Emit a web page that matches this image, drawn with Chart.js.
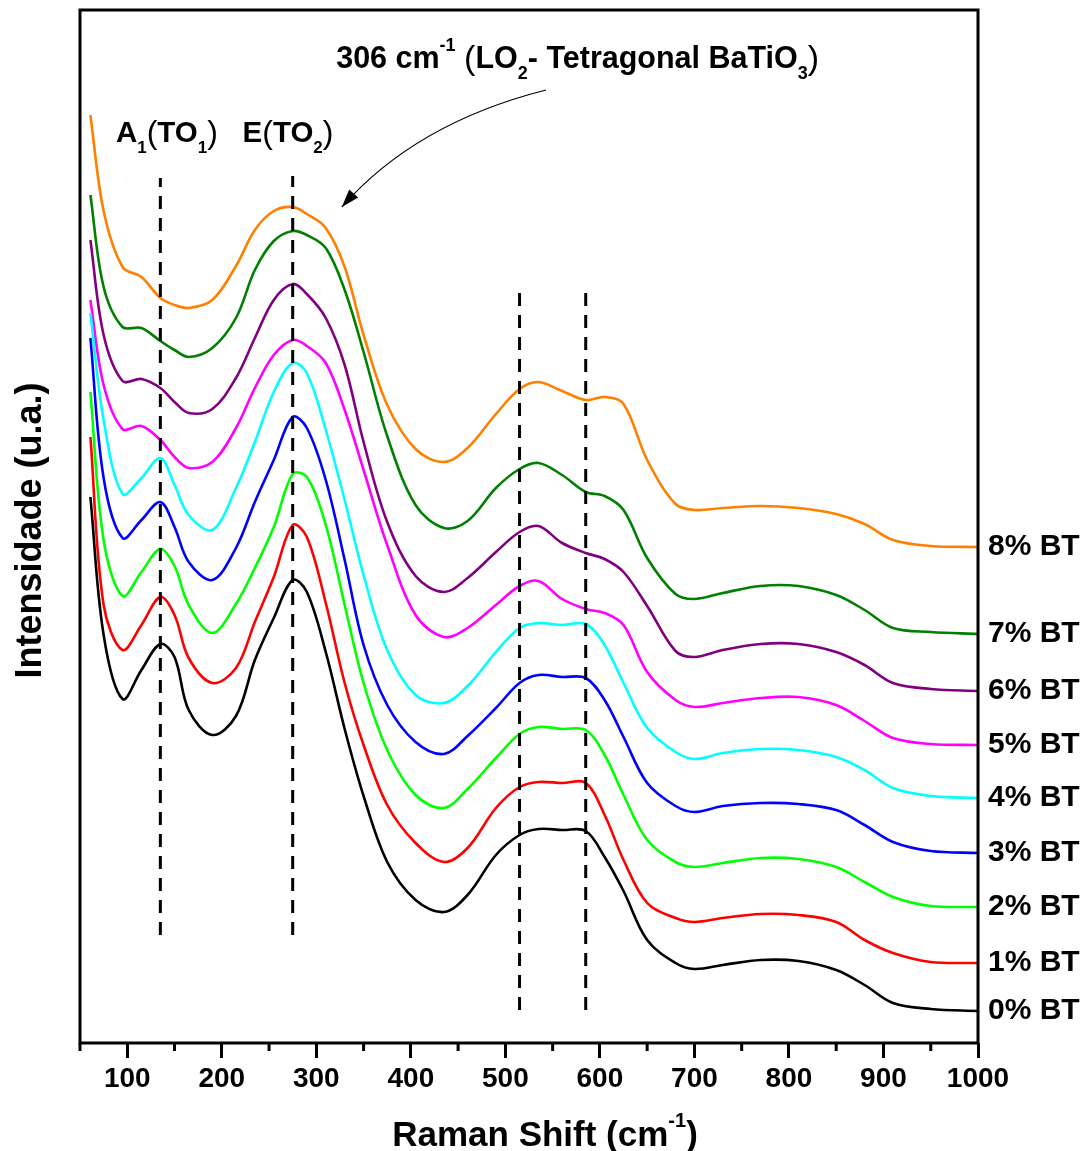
<!DOCTYPE html>
<html>
<head>
<meta charset="utf-8">
<title>Raman BT</title>
<script src="https://cdn.jsdelivr.net/npm/chart.js@4.4.0/dist/chart.umd.min.js"></script>
<style>
    html, body { margin: 0; padding: 0; background: #fff; }
    #wrap { width: 1092px; height: 1151px; position: relative; }
</style>
</head>
<body>
<div id="wrap"><canvas id="ramanChart"></canvas></div>
<script>
// Raman shift (cm-1) shared by all spectra
const ramanShift = [61, 75, 95, 115, 135, 150, 165, 190, 215, 235, 255, 275, 290, 310, 330, 350, 375, 405, 435, 460, 490, 515, 535, 560, 585, 605, 625, 650, 680, 700, 730, 770, 810, 850, 880, 910, 950, 1000];

// stacked intensities (u.a.)
const bt0 = [546, 408, 344, 373, 399, 386, 333, 308, 327, 383, 425, 463, 451, 391, 314, 247, 181, 143, 131, 148, 188, 208, 214, 213, 212, 186, 152, 103, 80, 74, 78, 83, 82, 73, 58, 40, 34, 32];
const bt1 = [606, 438, 393, 418, 446, 428, 385, 360, 375, 421, 466, 518, 506, 440, 360, 298, 238, 200, 181, 195, 235, 256, 261, 260, 260, 228, 183, 140, 125, 121, 125, 129, 128, 121, 103, 90, 81, 80];
const bt2 = [651, 503, 447, 471, 494, 477, 438, 410, 439, 475, 516, 569, 566, 518, 438, 360, 293, 248, 235, 254, 285, 309, 316, 314, 313, 288, 248, 203, 181, 176, 180, 185, 184, 176, 161, 146, 137, 136];
const bt3 = [705, 565, 505, 523, 541, 516, 481, 463, 495, 541, 583, 626, 615, 563, 483, 398, 338, 301, 289, 307, 335, 360, 368, 366, 365, 343, 306, 260, 237, 231, 237, 240, 239, 233, 218, 201, 192, 190];
const bt4 = [730, 623, 549, 565, 585, 558, 528, 513, 555, 601, 651, 680, 670, 613, 543, 468, 393, 348, 340, 357, 391, 415, 420, 418, 419, 398, 360, 315, 291, 284, 290, 294, 293, 286, 273, 255, 247, 245];
const bt5 = [743, 658, 614, 617, 603, 586, 575, 581, 615, 655, 688, 703, 697, 680, 633, 573, 498, 428, 406, 415, 438, 457, 462, 444, 434, 430, 418, 371, 343, 336, 340, 345, 346, 338, 322, 305, 299, 298];
const bt6 = [803, 708, 662, 664, 655, 641, 630, 634, 665, 705, 743, 759, 749, 725, 678, 601, 521, 467, 451, 465, 491, 511, 517, 500, 490, 484, 471, 437, 392, 386, 393, 399, 399, 391, 378, 360, 354, 352];
const bt7 = [848, 756, 716, 715, 702, 693, 686, 695, 725, 773, 802, 812, 808, 795, 753, 691, 607, 538, 515, 522, 555, 574, 580, 568, 551, 547, 533, 485, 449, 444, 450, 457, 457, 448, 433, 415, 411, 409];
const bt8 = [928, 832, 776, 766, 745, 738, 735, 743, 777, 813, 832, 836, 829, 815, 776, 708, 638, 594, 581, 595, 629, 654, 661, 652, 643, 646, 639, 583, 539, 533, 535, 537, 535, 529, 519, 503, 497, 496];

const sampleLabels = ['0% BT', '1% BT', '2% BT', '3% BT', '4% BT', '5% BT', '6% BT', '7% BT', '8% BT'];
const sampleColors = ['#000000', '#FF0000', '#00FF00', '#0000FF', '#00FFFF', '#FF00FF', '#800080', '#008000', '#FF8000'];
const spectra = [bt0, bt1, bt2, bt3, bt4, bt5, bt6, bt7, bt8];

// dashed mode markers (cm-1) and their vertical extent
const modeShifts = [135, 275, 515, 585];
const modeTop = [865, 867, 756, 756];
const modeBottom = [108, 108, 33, 33];

const FONT = '"Liberation Sans", Arial, Helvetica, sans-serif';

function partFont(p, size) {
    if (p.sub || p.sup) return 'bold ' + Math.round(size * 0.58) + 'px ' + FONT;
    if (p.paren) return Math.round(size * 1.1) + 'px ' + FONT;
    return 'bold ' + size + 'px ' + FONT;
}

function partsWidth(ctx, parts, size) {
    let w = 0;
    parts.forEach(p => {
        ctx.font = partFont(p, size);
        w += ctx.measureText(p.t).width;
    });
    return w;
}

function drawParts(ctx, x, y, parts, size) {
    let cx = x;
    parts.forEach(p => {
        ctx.font = partFont(p, size);
        const dy = p.sub ? size * 0.36 : (p.sup ? -size * 0.55 : (p.paren ? size * 0.04 : 0));
        ctx.fillText(p.t, cx, y + dy);
        cx += ctx.measureText(p.t).width;
    });
}

const decorPlugin = {
    id: 'ramanDecor',
    afterDraw(chart) {
        const ctx = chart.ctx;
        const area = chart.chartArea;
        const xs = chart.scales.x;
        const ys = chart.scales.y;

        ctx.save();
        ctx.fillStyle = '#000';
        ctx.strokeStyle = '#000';

        // frame
        ctx.lineWidth = 3;
        ctx.strokeRect(area.left, area.top, area.right - area.left, area.bottom - area.top);

        // minor ticks
        for (let v = 50; v < 1000; v += 100) {
            const px = xs.getPixelForValue(v);
            ctx.beginPath();
            ctx.moveTo(px, area.bottom);
            ctx.lineTo(px, area.bottom + 8);
            ctx.stroke();
        }

        ctx.textBaseline = 'alphabetic';
        ctx.textAlign = 'left';

        // mode annotations
        drawParts(ctx, xs.getPixelForValue(88), ys.getPixelForValue(901),
            [{ t: 'A' }, { t: '1', sub: true }, { t: '(', paren: true }, { t: 'TO' }, { t: '1', sub: true }, { t: ')', paren: true }], 29.5);
        drawParts(ctx, xs.getPixelForValue(222), ys.getPixelForValue(901),
            [{ t: 'E' }, { t: '(', paren: true }, { t: 'TO' }, { t: '2', sub: true }, { t: ')', paren: true }], 29.5);
        drawParts(ctx, xs.getPixelForValue(321), ys.getPixelForValue(975),
            [{ t: '306 cm' }, { t: '-1', sup: true }, { t: ' ' }, { t: '(', paren: true }, { t: 'LO' }, { t: '2', sub: true },
             { t: '- Tetragonal BaTiO' }, { t: '3', sub: true }, { t: ')', paren: true }], 30.5);

        // curved arrow
        const p0 = [xs.getPixelForValue(543), ys.getPixelForValue(953)];
        const c0 = [xs.getPixelForValue(405), ys.getPixelForValue(920)];
        const p1 = [xs.getPixelForValue(327), ys.getPixelForValue(836)];
        ctx.lineWidth = 1.2;
        ctx.beginPath();
        ctx.moveTo(p0[0], p0[1]);
        ctx.quadraticCurveTo(c0[0], c0[1], p1[0], p1[1]);
        ctx.stroke();
        const ang = Math.atan2(p1[1] - c0[1], p1[0] - c0[0]);
        ctx.beginPath();
        ctx.moveTo(p1[0], p1[1]);
        ctx.lineTo(p1[0] - 18 * Math.cos(ang) + 6 * Math.sin(ang), p1[1] - 18 * Math.sin(ang) - 6 * Math.cos(ang));
        ctx.lineTo(p1[0] - 18 * Math.cos(ang) - 6 * Math.sin(ang), p1[1] - 18 * Math.sin(ang) + 6 * Math.cos(ang));
        ctx.closePath();
        ctx.fill();

        // sample labels at the end of each spectrum
        ctx.font = 'bold 30px ' + FONT;
        ctx.textBaseline = 'middle';
        spectra.forEach((s, i) => {
            const py = ys.getPixelForValue(s[s.length - 1]);
            ctx.fillText(sampleLabels[i], area.right + 10, py);
        });

        // x axis title
        ctx.textBaseline = 'alphabetic';
        const xt = [{ t: 'Raman Shift (cm' }, { t: '-1', sup: true }, { t: ')' }];
        const xw = partsWidth(ctx, xt, 35);
        drawParts(ctx, (area.left + area.right) / 2 + 16 - xw / 2, 1146, xt, 35);

        // y axis title
        ctx.translate(41, (area.top + area.bottom) / 2 + 4);
        ctx.rotate(-Math.PI / 2);
        ctx.textAlign = 'center';
        ctx.font = 'bold 36px ' + FONT;
        ctx.fillText('Intensidade (u.a.)', 0, 0);
        ctx.restore();
    }
};

function buildDatasets() {
    const sets = [];
    modeShifts.forEach((m, i) => {
        sets.push({
            data: [{ x: m, y: modeBottom[i] }, { x: m, y: modeTop[i] }],
            borderColor: '#000',
            borderWidth: 3,
            borderDash: [13, 9],
            pointRadius: 0,
            order: 0
        });
    });
    spectra.forEach((s, i) => {
        sets.push({
            label: sampleLabels[i],
            data: ramanShift.map((x, j) => ({ x: x, y: s[j] })),
            borderColor: sampleColors[i],
            borderWidth: 2.6,
            pointRadius: 0,
            tension: 0.35,
            order: 1
        });
    });
    return sets;
}

function initializeChart() {
    new Chart(document.getElementById('ramanChart'), {
        type: 'line',
        data: { datasets: buildDatasets() },
        options: {
            responsive: true,
            maintainAspectRatio: false,
            animation: false,
            layout: { padding: { left: 0, right: 114, top: 10, bottom: 0 } },
            plugins: {
                legend: { display: false },
                tooltip: { enabled: false }
            },
            scales: {
                x: {
                    type: 'linear',
                    min: 50,
                    max: 1000,
                    border: { display: false },
                    grid: {
                        display: true,
                        drawOnChartArea: false,
                        drawTicks: true,
                        tickLength: 15,
                        tickWidth: 3,
                        tickColor: ctx => (ctx.tick && ctx.tick.value % 100 === 0) ? '#000' : 'rgba(0,0,0,0)'
                    },
                    ticks: {
                        stepSize: 50,
                        autoSkip: false,
                        maxRotation: 0,
                        padding: 4,
                        color: '#000',
                        font: { family: FONT, size: 28, weight: 'bold' },
                        callback: v => (v % 100 === 0) ? v : ''
                    },
                    afterFit: s => { s.height = 108; }
                },
                y: {
                    type: 'linear',
                    min: 0,
                    max: 1033,
                    border: { display: false },
                    grid: { display: false },
                    ticks: { display: false },
                    afterFit: s => { s.width = 80; }
                }
            }
        },
        plugins: [decorPlugin]
    });
}

document.addEventListener('DOMContentLoaded', initializeChart);
</script>
</body>
</html>
